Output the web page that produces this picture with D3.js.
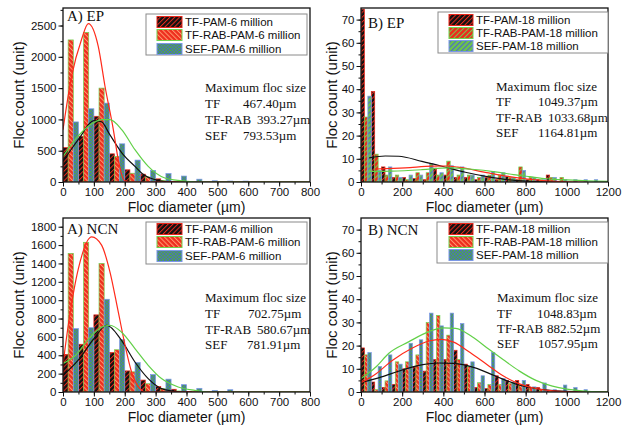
<!DOCTYPE html>
<html>
<head>
<meta charset="utf-8">
<script src="https://cdn.jsdelivr.net/npm/d3@7"></script>
<style>
body { margin: 0; background: #fff; }
svg text { font-family: "Liberation Sans", Arial, sans-serif; fill: #111; }
svg text.serif { font-family: "Liberation Serif", "Times New Roman", serif; }
</style>
</head>
<body>
<div id="chart"></div>
<script>
var width = 633,
    height = 425;

var binWidth = 50; // µm, three bars share each bin

// A) EP - PAM 6 million, floc counts per 50 µm bin
var epA_TF  = [550, 730, 1050, 450, 195, 125, 50, 10, 0, 0, 0, 0, 0, 0, 0, 0];
var epA_RAB = [2270, 2390, 1500, 410, 140, 80, 25, 8, 0, 0, 0, 0, 0, 0, 0, 0];
var epA_SEF = [960, 1170, 1260, 610, 350, 185, 135, 95, 45, 20, 15, 15, 0, 0, 0, 0];

// B) EP - PAM 18 million
var epB_TF  = [74.5, 39, 6.5, 2, 2, 1.5, 1, 6, 3, 2, 2, 1, 2, 1, 2.5, 1, 1, 1, 3, 0, 0, 0, 0, 0];
var epB_RAB = [28, 12, 3, 3, 1, 4, 4, 3, 9, 3, 3, 2, 3, 3, 2, 6.5, 2, 1, 2, 0, 2, 0, 0, 0];
var epB_SEF = [37, 5, 6.5, 2, 3, 3, 8, 4, 7, 6.5, 3, 3, 4.5, 4, 2, 5, 2, 1, 2, 1, 0, 1, 1, 1];

// A) NCN - PAM 6 million
var ncnA_TF  = [410, 520, 840, 430, 230, 130, 60, 30, 5, 0, 0, 0, 0, 0, 0, 0];
var ncnA_RAB = [1510, 1630, 1400, 460, 220, 90, 36, 11, 0, 0, 0, 0, 0, 0, 0, 0];
var ncnA_SEF = [690, 700, 1010, 570, 320, 190, 140, 80, 40, 18, 25, 0, 0, 0, 0, 0];

// B) NCN - PAM 18 million
var ncnB_TF  = [19, 4.3, 2, 3.3, 10, 11, 9, 14, 14, 18, 12, 2, 1.5, 7, 5, 5, 3.3, 2, 0.5, 0, 0, 0, 0, 0];
var ncnB_RAB = [16, 1, 4.8, 13, 13, 16, 30, 33, 24.5, 14, 11, 4, 3.2, 3.2, 3.6, 2.9, 1.9, 1, 0.5, 0, 0, 0, 0, 0];
var ncnB_SEF = [17, 11, 16, 12, 21, 22.5, 34, 28.5, 34, 29.5, 13, 7, 17, 5.8, 4.3, 5, 2.2, 3.9, 1, 3, 1.9, 1, 0, 0];

// fitted distribution curves, [diameter, count]
var epA_TF_fit  = [[0, 330], [50, 680], [100, 980], [125, 960], [150, 770], [195, 437], [233, 250], [257, 133], [298, 37], [330, 5], [360, 0], [800, 0]];
var epA_RAB_fit = [[0, 836], [28, 1690], [60, 2277], [82, 2530], [114, 2170], [136, 1530], [163, 837], [179, 357], [190, 117], [200, 20], [215, 0], [800, 0]];
var epA_SEF_fit = [[0, 405], [39, 675], [82, 890], [125, 997], [152, 997], [190, 837], [233, 517], [276, 250], [330, 64], [384, 20], [430, 0], [800, 0]];

var epB_TF_fit  = [[40, 10.4], [118, 11.2], [183, 11.1], [296, 8.9], [393, 6.8], [507, 4.2], [620, 2.2], [720, 0.9], [820, 0.3], [950, 0]];
var epB_RAB_fit = [[75, 5.6], [215, 6.1], [345, 6.8], [420, 6.9], [470, 6.4], [620, 3.9], [700, 2.6], [800, 1.4], [900, 0.5], [1000, 0.1], [1100, 0]];
var epB_SEF_fit = [[40, 4.6], [150, 4.7], [296, 5.3], [425, 6.1], [539, 5.5], [652, 4.4], [741, 3.2], [820, 2.3], [903, 1.4], [1000, 0.9], [1100, 0.5], [1200, 0.3]];

var ncnA_TF_fit  = [[0, 180], [50, 350], [100, 580], [142, 727], [189, 564], [233, 327], [276, 146], [319, 37], [357, 10], [400, 0], [800, 0]];
var ncnA_RAB_fit = [[0, 300], [17, 727], [50, 1346], [93, 1690], [125, 1600], [152, 1309], [179, 872], [201, 509], [222, 218], [249, 37], [270, 0], [800, 0]];
var ncnA_SEF_fit = [[0, 310], [41, 400], [84, 582], [127, 709], [152, 727], [189, 654], [233, 473], [276, 291], [319, 146], [373, 55], [427, 18], [470, 0], [800, 0]];

var ncnB_TF_fit  = [[0, 4], [100, 6.5], [200, 9.5], [300, 11.8], [375, 12.5], [450, 12.3], [550, 10.5], [650, 7], [750, 3.5], [850, 1.5], [950, 0.5], [1050, 0.1], [1200, 0]];
var ncnB_RAB_fit = [[0, 4], [75, 8], [150, 13.5], [250, 19], [330, 22], [390, 22.7], [450, 21.5], [530, 17], [610, 12], [690, 7], [770, 3.5], [850, 1.5], [930, 0.5], [1000, 0.1], [1100, 0], [1200, 0]];
var ncnB_SEF_fit = [[0, 5.8], [75, 11], [134, 16.6], [231, 21.6], [330, 26], [400, 27.6], [460, 27.4], [540, 23.8], [620, 18.5], [690, 14], [770, 9], [850, 5], [930, 2.5], [1000, 1.2], [1100, 0.3], [1200, 0.1]];

var legend6  = ["TF-PAM-6 million", "TF-RAB-PAM-6 million", "SEF-PAM-6 million"];
var legend18 = ["TF-PAM-18 million", "TF-RAB-PAM-18 million", "SEF-PAM-18 million"];
var sizeNames = ["TF", "TF-RAB", "SEF"];

var epA_max  = ["467.40µm", "393.27µm", "793.53µm"];
var epB_max  = ["1049.37µm", "1033.68µm", "1164.81µm"];
var ncnA_max = ["702.75µm", "580.67µm", "781.91µm"];
var ncnB_max = ["1048.83µm", "882.52µm", "1057.95µm"];

var svg = d3.select("#chart").append("svg")
    .attr("width", width)
    .attr("height", height);

var defs = svg.append("defs");

// fill patterns
function stripes(id, bg, fg, angle, gap, lw) {
  var p = defs.append("pattern")
      .attr("id", id)
      .attr("patternUnits", "userSpaceOnUse")
      .attr("width", gap).attr("height", gap)
      .attr("patternTransform", "rotate(" + angle + ")");
  p.append("rect").attr("width", gap).attr("height", gap).attr("fill", bg);
  p.append("rect").attr("width", lw).attr("height", gap).attr("fill", fg);
}
function checker(id, bg, fg, s) {
  var p = defs.append("pattern")
      .attr("id", id)
      .attr("patternUnits", "userSpaceOnUse")
      .attr("width", 2 * s).attr("height", 2 * s);
  p.append("rect").attr("width", 2 * s).attr("height", 2 * s).attr("fill", bg);
  p.append("rect").attr("width", s).attr("height", s).attr("fill", fg);
  p.append("rect").attr("x", s).attr("y", s).attr("width", s).attr("height", s).attr("fill", fg);
}
stripes("tf", "#111", "#e8261a", 45, 3.4, 1);
stripes("rabA", "#ee2e1e", "#ff9a70", -45, 3.4, 1);
stripes("rabB", "#ee2a1c", "#74cc4e", 45, 3.6, 1);
checker("sefA", "#4fae3c", "#4a68c8", 1.6);
stripes("sefB", "#6cc44a", "#4d6ccc", 45, 3.6, 1.1);

var styles = {
  a: [{fill: "url(#tf)", stroke: "#e8261a"}, {fill: "url(#rabA)", stroke: "#6fd24f"}, {fill: "url(#sefA)", stroke: "#7b98e6"}],
  b: [{fill: "url(#tf)", stroke: "#e8261a"}, {fill: "url(#rabB)", stroke: "#6fd24f"}, {fill: "url(#sefB)", stroke: "#7b98e6"}]
};
var fitColors = ["#111", "#ff2a1a", "#62d048"];

var pw = 247, ph = 174;

var panels = [
  {id: "p1", label: "A) EP", left: 63, top: 8, xMax: 800, xStep: 100, yMax: 2780, yStep: 500,
   series: [epA_TF, epA_RAB, epA_SEF], fits: [epA_TF_fit, epA_RAB_fit, epA_SEF_fit],
   names: legend6, sizes: epA_max, style: "a",
   lab: [4, 13], leg: {x: 83, y: 6, w: 161, h: 41, rows: [8, 21, 35], sw: 11, sx: 94, tx: 122},
   ann: {x: 142, ys: [84, 100, 116, 132], vx: [180, 194, 180]}},
  {id: "p2", label: "B) EP", left: 361, top: 8, xMax: 1200, xStep: 200, yMax: 75, yStep: 10,
   series: [epB_TF, epB_RAB, epB_SEF], fits: [epB_TF_fit, epB_RAB_fit, epB_SEF_fit],
   names: legend18, sizes: epB_max, style: "b",
   lab: [7, 20], leg: {x: 77, y: 4, w: 170, h: 41, rows: [8, 21, 34], sw: 11, sx: 88, tx: 115},
   ann: {x: 135, ys: [83, 98, 114, 129], vx: [177, 187, 177]}},
  {id: "p3", label: "A) NCN", left: 63, top: 218, xMax: 800, xStep: 100, yMax: 1895, yStep: 200,
   series: [ncnA_TF, ncnA_RAB, ncnA_SEF], fits: [ncnA_TF_fit, ncnA_RAB_fit, ncnA_SEF_fit],
   names: legend6, sizes: ncnA_max, style: "a",
   lab: [4, 16], leg: {x: 83, y: 4, w: 161, h: 42, rows: [7, 20, 34], sw: 11, sx: 94, tx: 122},
   ann: {x: 142, ys: [84, 100, 116, 131], vx: [185, 194, 184]}},
  {id: "p4", label: "B) NCN", left: 361, top: 218, xMax: 1200, xStep: 200, yMax: 75, yStep: 10,
   series: [ncnB_TF, ncnB_RAB, ncnB_SEF], fits: [ncnB_TF_fit, ncnB_RAB_fit, ncnB_SEF_fit],
   names: legend18, sizes: ncnB_max, style: "a",
   lab: [7, 17], leg: {x: 76, y: 4, w: 171, h: 41, rows: [7, 20, 33], sw: 11, sx: 88, tx: 115},
   ann: {x: 136, ys: [84, 100, 115, 130], vx: [176, 186, 177]}}
];

panels.forEach(drawPanel);

function drawPanel(p) {
  var g = svg.append("g").attr("transform", "translate(" + p.left + "," + p.top + ")");

  var x = d3.scaleLinear().domain([0, p.xMax]).range([0, pw]);
  var y = d3.scaleLinear().domain([0, p.yMax]).range([ph, 0]);

  defs.append("clipPath").attr("id", "clip-" + p.id)
    .append("rect").attr("width", pw).attr("height", ph);

  var plot = g.append("g").attr("clip-path", "url(#clip-" + p.id + ")");
  var sty = styles[p.style];
  var bw = binWidth / 3;

  // bars
  p.series.forEach(function(vals, k) {
    plot.append("g")
      .selectAll("rect")
        .data(vals)
      .enter().append("rect")
        .filter(function(d) { return d > 0; })
        .attr("x", function(d, i) { return x(i * binWidth + k * bw); })
        .attr("width", x(bw) - x(0))
        .attr("y", function(d) { return y(d); })
        .attr("height", function(d) { return y(0) - y(d); })
        .attr("fill", sty[k].fill)
        .attr("stroke", sty[k].stroke)
        .attr("stroke-width", 0.7);
  });

  // fitted curves
  var line = d3.line()
      .x(function(d) { return x(d[0]); })
      .y(function(d) { return y(d[1]); })
      .curve(d3.curveMonotoneX);
  p.fits.forEach(function(pts, k) {
    plot.append("path")
      .datum(pts)
      .attr("d", line)
      .attr("fill", "none")
      .attr("stroke", fitColors[k])
      .attr("stroke-width", 1.2);
  });

  // axes
  var xMinor = g.append("g").attr("transform", "translate(0," + ph + ")")
      .call(d3.axisBottom(x).tickValues(d3.range(0, p.xMax + 1, p.xStep / 2)).tickSize(2.5).tickSizeOuter(0).tickFormat(""));
  var yMinor = g.append("g")
      .call(d3.axisLeft(y).tickValues(d3.range(0, p.yMax, p.yStep / 2)).tickSize(2.5).tickSizeOuter(0).tickFormat(""));
  var xAxis = g.append("g").attr("transform", "translate(0," + ph + ")")
      .call(d3.axisBottom(x).tickValues(d3.range(0, p.xMax + 1, p.xStep)).tickSize(4.5).tickSizeOuter(0).tickPadding(1).tickFormat(d3.format("d")));
  var yAxis = g.append("g")
      .call(d3.axisLeft(y).tickValues(d3.range(0, p.yMax, p.yStep)).tickSize(4.5).tickSizeOuter(0).tickPadding(2).tickFormat(d3.format("d")));
  [xMinor, yMinor, xAxis, yAxis].forEach(function(a) {
    a.select(".domain").remove();
    a.selectAll("line").attr("stroke", "#111").attr("stroke-width", 1);
    a.selectAll("text").attr("font-size", 11.5).attr("font-family", null).attr("fill", "#111");
  });

  // frame
  g.append("rect")
    .attr("width", pw).attr("height", ph)
    .attr("fill", "none").attr("stroke", "#111").attr("stroke-width", 1.3);

  // panel label
  g.append("text").attr("class", "serif")
    .attr("x", p.lab[0]).attr("y", p.lab[1])
    .attr("font-size", 15)
    .text(p.label);

  // legend
  var L = p.leg;
  var lg = g.append("g");
  lg.append("rect")
    .attr("x", L.x).attr("y", L.y).attr("width", L.w).attr("height", L.h)
    .attr("fill", "#fff").attr("stroke", "#8a8a8a").attr("stroke-width", 1);
  p.names.forEach(function(name, k) {
    lg.append("rect")
      .attr("x", L.sx).attr("y", L.y + L.rows[k] - L.sw / 2)
      .attr("width", L.tx - L.sx - 3).attr("height", L.sw)
      .attr("fill", sty[k].fill).attr("stroke", sty[k].stroke).attr("stroke-width", 1);
    lg.append("text")
      .attr("x", L.tx).attr("y", L.y + L.rows[k])
      .attr("dy", "0.36em")
      .attr("font-size", 11.5)
      .text(name);
  });

  // maximum floc size annotation
  var A = p.ann;
  g.append("text").attr("class", "serif")
    .attr("x", A.x).attr("y", A.ys[0]).attr("font-size", 13)
    .text("Maximum floc size");
  sizeNames.forEach(function(n, k) {
    g.append("text").attr("class", "serif")
      .attr("x", A.x).attr("y", A.ys[k + 1]).attr("font-size", 13)
      .text(n);
    g.append("text").attr("class", "serif")
      .attr("x", A.vx[k]).attr("y", A.ys[k + 1]).attr("font-size", 13)
      .text(p.sizes[k]);
  });

  // axis titles
  g.append("text")
    .attr("x", pw / 2).attr("y", ph + 30)
    .attr("text-anchor", "middle")
    .attr("font-size", 14)
    .text("Floc diameter (µm)");
  g.append("text")
    .attr("transform", "translate(" + (p.left === 63 ? -44 : -29) + "," + ph / 2 + ") rotate(-90)")
    .attr("text-anchor", "middle")
    .attr("dy", "0.35em")
    .attr("font-size", 15)
    .text("Floc count (unit)");
}
</script>
</body>
</html>
